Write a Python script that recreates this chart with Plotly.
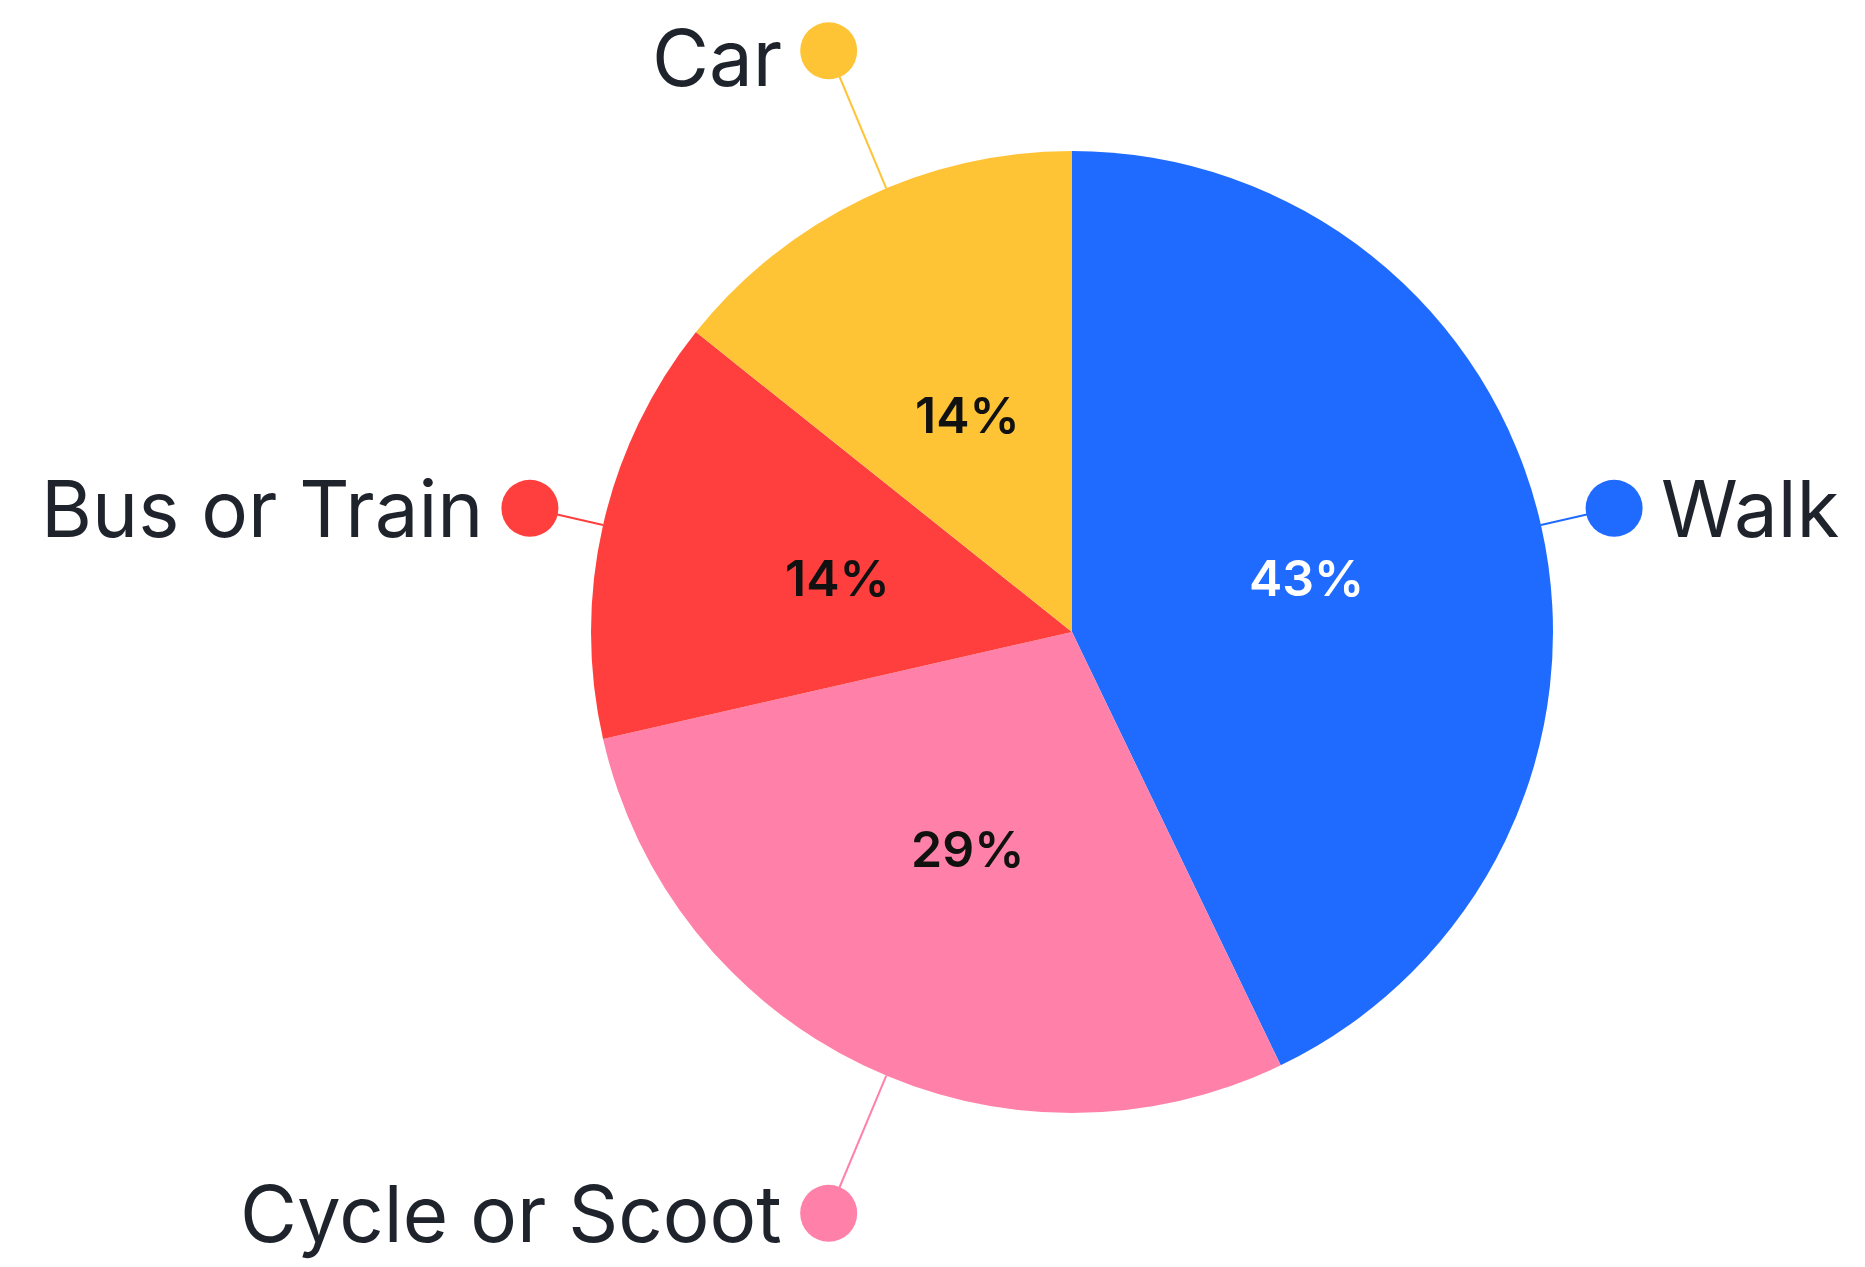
import math
import plotly.graph_objects as go

# ---- data ----
categories = ["Walk", "Cycle or Scoot", "Bus or Train", "Car"]
values = [3, 2, 1, 1]
pct_labels = ["43%", "29%", "14%", "14%"]

# ---- style ----
colors = ["#1F6BFF", "#FF80A9", "#FF3F3D", "#FFC336"]
pct_colors = ["#FFFFFF", "#111111", "#111111", "#111111"]
TEXT = "#1F232B"
W, H = 1865, 1267
CX, CY, R = 1064, 624, 481          # pie centre / radius in pixels
label_r = [1.156, 1.31, 1.156, 1.31]  # dot distance (in radii)
angle_nudge = [0, -3, 0, 3]           # degrees, label layout spread
label_side = ["right", "left", "left", "left"]
LABEL_SIZE = 78
TOP_CLEAR = 50                        # keep label boxes inside the page

fig = go.Figure()
fig.add_trace(go.Pie(
    labels=categories, values=values, sort=False, direction="clockwise",
    rotation=0, marker=dict(colors=colors, line=dict(width=0)),
    textinfo="none", hoverinfo="label+percent", showlegend=False,
    domain=dict(x=[(CX - R) / W, (CX + R) / W],
                y=[(H - CY - R) / H, (H - CY + R) / H]),
))

total = sum(values)
cum = 0
annotations = []
for i, (cat, v) in enumerate(zip(categories, values)):
    mid = (cum + v / 2) / total * 360
    cum += v
    a = math.radians(mid)
    # percentage text at half radius
    px, py = CX + 0.5 * R * math.sin(a), CY - 0.5 * R * math.cos(a)
    annotations.append(dict(x=px, y=py, xref="x", yref="y", text=pct_labels[i],
                             showarrow=False, xanchor="center", yanchor="middle",
                             font=dict(family="Inter", size=50, color=pct_colors[i], weight=600)))
    la = math.radians(mid + angle_nudge[i])
    sx, sy = CX + R * math.sin(la), CY - R * math.cos(la)
    dx, dy = CX + label_r[i] * R * math.sin(la), CY - label_r[i] * R * math.cos(la)
    fig.add_trace(go.Scatter(x=[sx, dx], y=[sy, dy], mode="lines",
                             line=dict(color=colors[i], width=2),
                             hoverinfo="skip", showlegend=False))
    fig.add_trace(go.Scatter(x=[dx], y=[dy], mode="markers",
                             marker=dict(color=colors[i], size=57, line=dict(width=0)),
                             hoverinfo="skip", showlegend=False))
    off = 46
    yshift = -max(0.0, TOP_CLEAR - dy)
    right = label_side[i] == "right"
    annotations.append(dict(x=dx + off if right else dx - off, y=dy, xref="x", yref="y",
                            text=cat, showarrow=False,
                            xanchor="left" if right else "right", yanchor="middle",
                            yshift=yshift, borderpad=0,
                            font=dict(family="Inter", size=LABEL_SIZE, color=TEXT)))

fig.update_layout(
    width=W, height=H, margin=dict(l=0, r=0, t=0, b=0),
    paper_bgcolor="white", plot_bgcolor="rgba(0,0,0,0)",
    xaxis=dict(range=[0, W], visible=False, fixedrange=True),
    yaxis=dict(range=[H, 0], visible=False, fixedrange=True),
    annotations=annotations,
)
fig.write_html("out.html")
